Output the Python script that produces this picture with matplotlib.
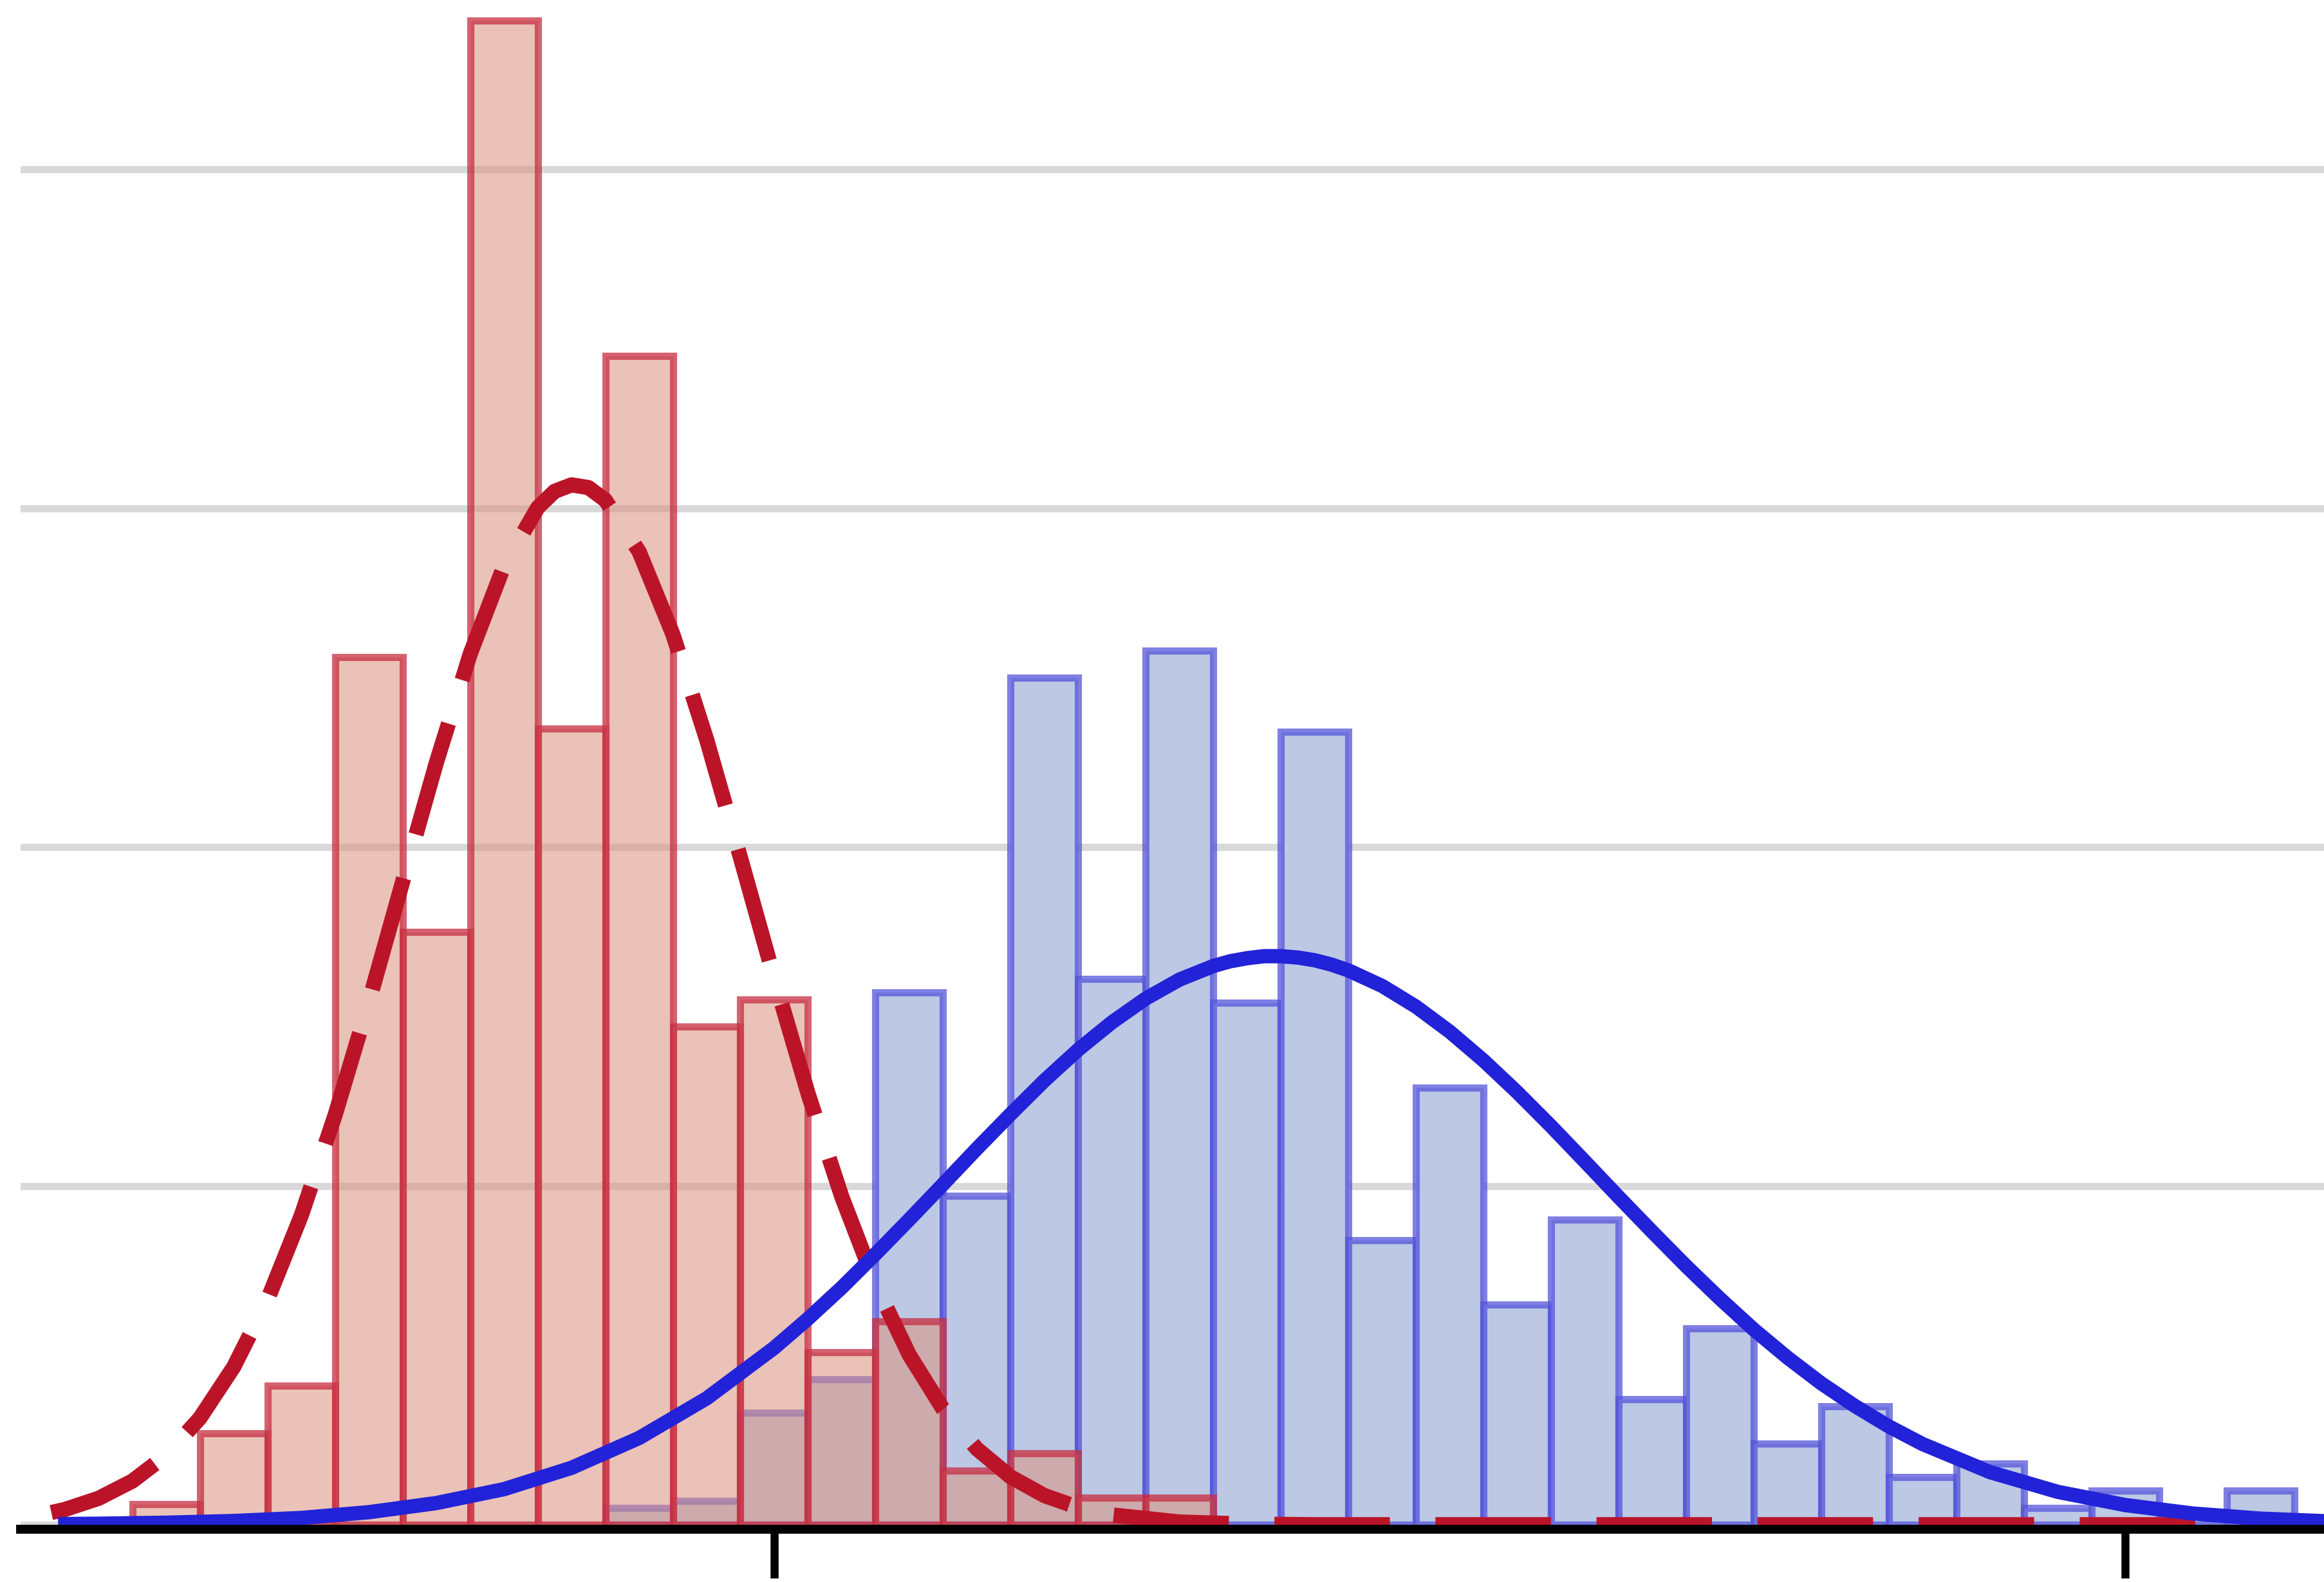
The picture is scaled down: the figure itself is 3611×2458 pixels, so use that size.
import matplotlib
matplotlib.use("Agg")
import matplotlib.pyplot as plt

# histogram bins (bin centres) and bar heights
red_bins = [1, 2, 3, 4, 5, 6, 7, 8, 9, 10, 11, 12, 13, 14, 15, 16]
red_heights = [0.06, 0.27, 0.41, 2.56, 1.75, 4.44, 2.35, 3.45, 1.47, 1.55, 0.51, 0.60, 0.16, 0.21, 0.08, 0.08]

blue_bins = [8, 9, 10, 11, 12, 13, 14, 15, 16, 17, 18, 19, 20, 21, 22, 23, 24,
             25, 26, 27, 28, 29, 30, 31, 32]
blue_heights = [0.05, 0.07, 0.33, 0.43, 1.57, 0.97, 2.50, 1.61, 2.58, 1.54, 2.34, 0.84, 1.29,
                0.65, 0.90, 0.37, 0.58, 0.24, 0.35, 0.14, 0.18, 0.05, 0.10, 0.0, 0.10]

# fitted curves
red_curve_x = [-0.7, -0.5, 0, 0.5, 1, 1.5, 2, 2.5, 3, 3.5, 4, 4.5, 5, 5.5, 6, 6.5, 6.75, 7, 7.25,
               7.5, 8, 8.5, 9, 9.5, 10, 10.5, 11, 11.5, 12, 12.5, 13, 13.5, 14, 14.5, 15, 16,
               17, 18, 20, 25, 30, 33.5]
red_curve_y = [0.036, 0.045, 0.078, 0.129, 0.205, 0.315, 0.466, 0.664, 0.913, 1.209, 1.543,
               1.898, 2.250, 2.570, 2.830, 3.002, 3.050, 3.069, 3.061, 3.024, 2.872, 2.628,
               2.317, 1.969, 1.613, 1.273, 0.968, 0.709, 0.501, 0.341, 0.224, 0.141, 0.086,
               0.051, 0.029, 0.008, 0.002, 0, 0, 0, 0, 0]

blue_curve_x = [-0.6, 0, 1, 2, 3, 4, 5, 6, 7, 8, 9, 10, 10.5, 11, 11.5, 12, 12.5, 13, 13.5,
                14, 14.5, 15, 15.5, 16, 16.5, 16.75, 17, 17.25, 17.5, 17.75, 18, 18.25, 18.5,
                19, 19.5, 20, 20.5, 21, 21.5, 22, 22.5, 23, 23.5, 24, 24.5, 25, 25.5, 26,
                26.5, 27, 28, 29, 30, 31, 32, 33]
blue_curve_y = [0.002, 0.003, 0.006, 0.011, 0.020, 0.037, 0.064, 0.105, 0.168, 0.256, 0.373,
                0.522, 0.608, 0.700, 0.799, 0.901, 1.005, 1.110, 1.212, 1.311, 1.402, 1.483,
                1.553, 1.609, 1.649, 1.663, 1.672, 1.678, 1.678, 1.674, 1.666, 1.653, 1.636,
                1.590, 1.529, 1.455, 1.370, 1.276, 1.176, 1.072, 0.967, 0.864, 0.763, 0.667,
                0.576, 0.493, 0.417, 0.350, 0.290, 0.238, 0.155, 0.097, 0.058, 0.033, 0.018,
                0.010]

x_ticks = [10, 30]
grid_levels = [0, 1, 2, 3, 4]

fig = plt.figure(figsize=(36.11, 24.58), dpi=100)
ax = fig.add_axes([0.0089, 0.0362, 0.9911, 0.9638])

ax.bar(blue_bins, blue_heights, width=1.0, color="#bcc8e4",
       edgecolor=(0.33, 0.33, 0.86, 0.75), linewidth=8, zorder=1)
ax.bar(red_bins, red_heights, width=1.0, color=(0.86, 0.58, 0.51, 0.57),
       edgecolor=(0.78, 0.18, 0.26, 0.75), linewidth=8, zorder=1.5)

ax.plot(red_curve_x, red_curve_y, color="#bb1428", linewidth=17,
        linestyle=(0, (7.6, 3.0)), dash_capstyle="butt", zorder=3)
ax.plot(blue_curve_x, blue_curve_y, color="#2222d8", linewidth=16,
        solid_capstyle="butt", solid_joinstyle="round", zorder=4)

ax.set_xlim(-1.154, 32.94)
ax.set_ylim(0, 4.5)

ax.set_yticks(grid_levels)
ax.yaxis.grid(True, color="#d9d9d9", linewidth=8)
ax.set_axisbelow(True)
ax.tick_params(axis="y", length=0, labelleft=False)

ax.set_xticks(x_ticks)
ax.tick_params(axis="x", direction="out", length=55, width=9, color="black",
               labelbottom=False)

for side in ["left", "right", "top"]:
    ax.spines[side].set_visible(False)
ax.spines["bottom"].set_linewidth(10)
ax.spines["bottom"].set_position(("outward", 5))
ax.spines["bottom"].set_zorder(5)

fig.savefig("out.png", dpi=100)
